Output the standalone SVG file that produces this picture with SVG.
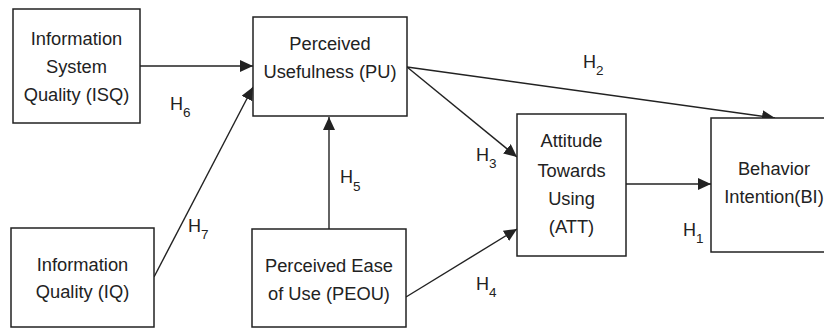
<svg xmlns="http://www.w3.org/2000/svg" width="824" height="329" viewBox="0 0 824 329">
<style>
.box{fill:#fff;stroke:#222;stroke-width:1.5}
.t{font-family:"Liberation Sans",Arial,sans-serif;font-size:18.3px;fill:#222;text-anchor:middle}
.h{font-family:"Liberation Sans",Arial,sans-serif;font-size:18px;fill:#222}
.s{font-size:13.5px}
.c{stroke:#222;stroke-width:1.4;fill:none;marker-end:url(#ah)}
</style>
<defs>
<marker id="ah" markerUnits="userSpaceOnUse" markerWidth="14" markerHeight="12" refX="13" refY="6" orient="auto">
<path d="M0,0 L13,6 L0,12 z" fill="#222"/>
</marker>
</defs>
<g id="connectors">
<line class="c" x1="140" y1="66" x2="253" y2="66"/>
<line class="c" x1="154" y1="277" x2="253" y2="87"/>
<line class="c" x1="329" y1="229" x2="329" y2="117"/>
<line class="c" x1="407" y1="67" x2="775" y2="118"/>
<line class="c" x1="407" y1="67" x2="517" y2="157"/>
<line class="c" x1="406" y1="297" x2="517" y2="229"/>
<line class="c" x1="626" y1="184" x2="711" y2="184"/>
</g>
<g id="ISQ">
<rect class="box" x="13" y="9" width="127" height="114"/>
<text class="t" x="76.5" y="45">Information</text>
<text class="t" x="76.5" y="73">System</text>
<text class="t" x="76.5" y="101">Quality (ISQ)</text>
</g>
<g id="PU">
<rect class="box" x="253" y="17" width="154" height="99"/>
<text class="t" x="330" y="50">Perceived</text>
<text class="t" x="330" y="78">Usefulness (PU)</text>
</g>
<g id="IQ">
<rect class="box" x="11" y="228" width="143" height="99"/>
<text class="t" x="82.5" y="271">Information</text>
<text class="t" x="82.5" y="298">Quality (IQ)</text>
</g>
<g id="PEOU">
<rect class="box" x="252" y="229" width="154" height="98"/>
<text class="t" x="329" y="272">Perceived Ease</text>
<text class="t" x="329" y="300">of Use (PEOU)</text>
</g>
<g id="ATT">
<rect class="box" x="517" y="114" width="109" height="142"/>
<text class="t" x="571.5" y="147">Attitude</text>
<text class="t" x="571.5" y="177">Towards</text>
<text class="t" x="571.5" y="205">Using</text>
<text class="t" x="571.5" y="233">(ATT)</text>
</g>
<g id="BI">
<rect class="box" x="711" y="118" width="125" height="134"/>
<text class="t" x="774" y="175">Behavior</text>
<text class="t" x="774" y="203">Intention(BI)</text>
</g>
<g id="labels">
<text class="h" x="170" y="110">H<tspan class="s" dy="7">6</tspan></text>
<text class="h" x="583" y="68">H<tspan class="s" dy="7">2</tspan></text>
<text class="h" x="476" y="161">H<tspan class="s" dy="7">3</tspan></text>
<text class="h" x="340" y="183">H<tspan class="s" dy="8">5</tspan></text>
<text class="h" x="188" y="232">H<tspan class="s" dy="7">7</tspan></text>
<text class="h" x="476" y="290">H<tspan class="s" dy="7">4</tspan></text>
<text class="h" x="683" y="236">H<tspan class="s" dy="7">1</tspan></text>
</g>
</svg>
